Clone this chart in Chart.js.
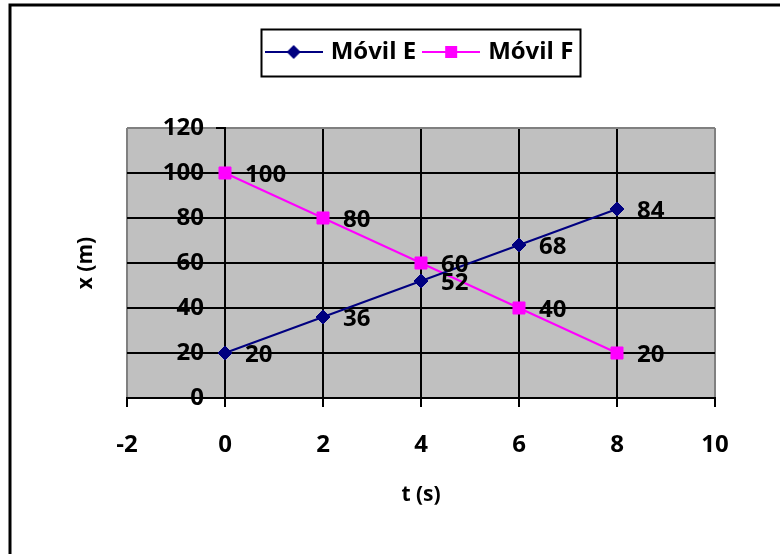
<!DOCTYPE html>
<html>
<head>
<meta charset="utf-8">
<script src="https://cdn.jsdelivr.net/npm/chart.js@4.4.1/dist/chart.umd.min.js"></script>
<style>
  html, body { margin: 0; padding: 0; background: #fff; }
  #wrap { width: 780px; height: 554px; position: relative; }
</style>
</head>
<body>
<div id="wrap"><canvas id="chart" width="780" height="554"></canvas></div>
<script>
// data
var tValues = [0, 2, 4, 6, 8];            // t (s)
var movilE = [20, 36, 52, 68, 84];        // x (m) for Móvil E
var movilF = [100, 80, 60, 40, 20];       // x (m) for Móvil F
var seriesNames = ['Móvil E', 'Móvil F'];
var xTicks = [-2, 0, 2, 4, 6, 8, 10];
var yTicks = [0, 20, 40, 60, 80, 100, 120];

var FONT = "'Open Sans', 'DejaVu Sans', sans-serif";

function toPoints(xs, ys) {
  return xs.map(function (x, i) { return { x: x, y: ys[i] }; });
}

// little canvas with line + marker, used as the legend symbol
function legendSymbol(color, shape) {
  var c = document.createElement('canvas');
  c.width = 58; c.height = 16;
  var g = c.getContext('2d');
  g.strokeStyle = color; g.lineWidth = 2;
  g.beginPath(); g.moveTo(0, 8); g.lineTo(58, 8); g.stroke();
  g.fillStyle = color;
  g.beginPath();
  if (shape === 'diamond') {
    g.moveTo(29, 1); g.lineTo(36, 8); g.lineTo(29, 15); g.lineTo(22, 8);
  } else {
    g.rect(23, 2, 12, 12);
  }
  g.closePath(); g.fill();
  return c;
}
var symbols = [legendSymbol('#000080', 'diamond'), legendSymbol('#FF00FF', 'square')];

// background, plot fill, outer frame, legend frame
var framePlugin = {
  id: 'frame',
  beforeDraw: function (chart) {
    var ctx = chart.ctx, a = chart.chartArea;
    ctx.save();
    ctx.fillStyle = '#fff';
    ctx.fillRect(0, 0, chart.width, chart.height);
    ctx.fillStyle = '#C0C0C0';
    ctx.fillRect(a.left, a.top, a.right - a.left, a.bottom - a.top);
    ctx.strokeStyle = '#000';
    ctx.lineWidth = 3;
    ctx.strokeRect(10, 5, chart.width + 20, chart.height + 20);
    ctx.restore();
  },
  afterDraw: function (chart) {
    var lg = chart.legend;
    if (!lg || !lg.legendHitBoxes || !lg.legendHitBoxes.length) return;
    var hb = lg.legendHitBoxes;
    var first = hb[0], last = hb[hb.length - 1];
    var cy = first.top + first.height / 2;
    var ctx = chart.ctx;
    ctx.save();
    ctx.strokeStyle = '#000';
    ctx.lineWidth = 2;
    ctx.strokeRect(Math.round(first.left - 8) + 0.5, Math.round(cy - 23) + 0.5,
      Math.round(last.left + last.width - first.left + 14), 47);
    ctx.restore();
  }
};

// value labels to the right of each point
var valueLabels = {
  id: 'valueLabels',
  afterDatasetsDraw: function (chart) {
    var ctx = chart.ctx;
    ctx.save();
    ctx.font = 'bold 24px ' + FONT;
    ctx.fillStyle = '#000';
    ctx.textAlign = 'left';
    ctx.textBaseline = 'middle';
    chart.data.datasets.forEach(function (ds, i) {
      chart.getDatasetMeta(i).data.forEach(function (pt, j) {
        ctx.fillText(String(ds.data[j].y), pt.x + 20, pt.y + 2);
      });
    });
    ctx.restore();
  }
};

var edgeGrey = '#808080';
var tickFont = { family: FONT, size: 24, weight: 'bold' };

new Chart(document.getElementById('chart'), {
  type: 'line',
  data: {
    datasets: [{
      label: seriesNames[0],
      data: toPoints(tValues, movilE),
      borderColor: '#000080',
      backgroundColor: '#000080',
      borderWidth: 2,
      pointStyle: 'rectRot',
      pointRadius: 7,
      pointBorderWidth: 1,
      tension: 0
    }, {
      label: seriesNames[1],
      data: toPoints(tValues, movilF),
      borderColor: '#FF00FF',
      backgroundColor: '#FF00FF',
      borderWidth: 2,
      pointStyle: 'rect',
      pointRadius: 8.5,
      pointBorderWidth: 1,
      tension: 0
    }]
  },
  options: {
    responsive: false,
    animation: false,
    layout: { padding: { top: 30, left: 0, right: 65, bottom: 0 } },
    plugins: {
      tooltip: { enabled: false },
      legend: {
        position: 'top',
        fullSize: false,
        labels: {
          color: '#000',
          font: { family: FONT, size: 24, weight: 'bold' },
          usePointStyle: true,
          pointStyleWidth: 50,
          padding: 10,
          generateLabels: function (chart) {
            return chart.data.datasets.map(function (ds, i) {
              return {
                text: ds.label,
                pointStyle: symbols[i],
                fillStyle: ds.borderColor,
                strokeStyle: ds.borderColor,
                lineWidth: 0,
                hidden: false,
                datasetIndex: i,
                fontColor: '#000'
              };
            });
          }
        }
      }
    },
    scales: {
      x: {
        type: 'linear',
        position: 'bottom',
        min: -2, max: 10,
        afterBuildTicks: function (s) { s.ticks = xTicks.map(function (v) { return { value: v }; }); },
        afterFit: function (s) { s.height = 156; },
        grid: {
          color: function (c) { return (c.tick && (c.tick.value === -2 || c.tick.value === 10)) ? edgeGrey : '#000'; },
          tickColor: '#000',
          lineWidth: 2,
          tickLength: 9
        },
        border: { color: '#000', width: 2 },
        ticks: {
          color: '#000',
          padding: 24,
          font: tickFont
        },
        title: {
          display: true,
          text: 't (s)',
          color: '#000',
          font: { family: FONT, size: 21, weight: 'bold' },
          padding: { top: 0, bottom: 46 }
        }
      },
      // y axis line, grid and tick marks, crossing at t = 0
      y: {
        type: 'linear',
        position: { x: 0 },
        min: 0, max: 120,
        afterBuildTicks: function (s) { s.ticks = yTicks.map(function (v) { return { value: v }; }); },
        grid: {
          color: function (c) { return (c.tick && c.tick.value === 120) ? edgeGrey : '#000'; },
          tickColor: '#000',
          lineWidth: 2,
          tickLength: 8
        },
        border: { color: '#000', width: 2 },
        ticks: { display: false }
      },
      // y tick labels, set a little to the left of the axis line
      yLabels: {
        type: 'linear',
        position: { x: -0.43 },
        min: 0, max: 120,
        afterBuildTicks: function (s) { s.ticks = yTicks.map(function (v) { return { value: v }; }); },
        grid: { display: false, drawTicks: false },
        border: { display: false },
        ticks: {
          color: '#000',
          padding: 0,
          font: tickFont
        }
      },
      yTitle: {
        type: 'linear',
        position: 'left',
        afterFit: function (s) { s.width = 127; },
        grid: { display: false, drawTicks: false },
        border: { display: false },
        ticks: { display: false },
        title: {
          display: true,
          text: 'x (m)',
          color: '#000',
          font: { family: FONT, size: 21, weight: 'bold' },
          padding: { top: 73, bottom: 0 }
        }
      },
      topSpace: {
        type: 'linear',
        position: 'top',
        afterFit: function (s) {
          var lh = (s.chart.legend && s.chart.legend.height) || 48;
          s.height = Math.max(0, 128 - 30 - lh);
        },
        grid: { display: false, drawTicks: false },
        border: { display: false },
        ticks: { display: false }
      }
    }
  },
  plugins: [framePlugin, valueLabels]
});
</script>
</body>
</html>
